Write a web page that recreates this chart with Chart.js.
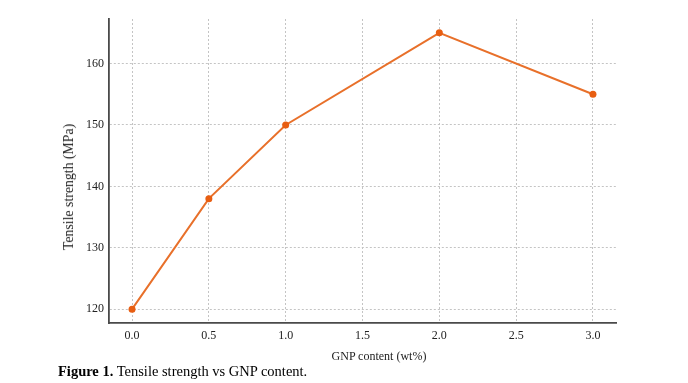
<!DOCTYPE html>
<html>
<head>
<meta charset="utf-8">
<script src="https://cdn.jsdelivr.net/npm/chart.js@4.4.1/dist/chart.umd.min.js"></script>
<style>
  body { margin: 0; background: #fff; }
  #wrap { position: relative; width: 688px; height: 383px; }
  #grafico { position: absolute; left: 0; top: 0; }
  .txt { position: absolute; font-family: 'Liberation Serif', 'Times New Roman', serif; color: #222; white-space: nowrap; }
  #tituloX { font-size: 12px; left: 379px; top: 356px; transform: translate(-50%, -50%); }
  #tituloY { font-size: 13.8px; left: 69px; top: 187px; transform: translate(-50%, -50%) rotate(-90deg); }
  #legenda { font-size: 14.5px; left: 58px; top: 363px; color: #000; }
</style>
</head>
<body>
<div id="wrap">
  <canvas id="grafico" width="688" height="383"></canvas>
  <div class="txt" id="tituloX">GNP content (wt%)</div>
  <div class="txt" id="tituloY">Tensile strength (MPa)</div>
  <div class="txt" id="legenda"><b>Figure 1.</b> Tensile strength vs GNP content.</div>
</div>
<script>
// Dados
const teorGNP = [0.0, 0.5, 1.0, 2.0, 3.0];
const resistencia = [120, 138, 150, 165, 155];
const ticksX = [0.0, 0.5, 1.0, 1.5, 2.0, 2.5, 3.0];
const ticksY = [120, 130, 140, 150, 160];

const pontos = teorGNP.map((x, i) => ({ x: x, y: resistencia[i] }));

const fonteTicks = { family: "'Liberation Serif', 'Times New Roman', serif", size: 12 };

var ctx = document.getElementById('grafico').getContext('2d');
var grafico = new Chart(ctx, {
    type: 'line',
    data: {
        datasets: [{
            label: 'Tensile strength',
            data: pontos,
            borderColor: '#e8702a',
            backgroundColor: '#e85e12',
            borderWidth: 2,
            pointRadius: 3.5,
            pointBorderWidth: 0,
            pointBackgroundColor: '#e85e12',
            tension: 0
        }]
    },
    options: {
        responsive: false,
        animation: false,
        layout: { padding: { left: 0, top: 19, right: 72, bottom: 0 } },
        plugins: { legend: { display: false }, tooltip: { enabled: false } },
        scales: {
            x: {
                type: 'linear',
                min: -0.15,
                max: 3.15,
                afterFit: function (scale) { scale.height = 60; },
                afterBuildTicks: function (scale) { scale.ticks = ticksX.map(v => ({ value: v })); },
                ticks: {
                    includeBounds: false,
                    padding: 6,
                    color: '#222',
                    font: fonteTicks,
                    callback: v => Number(v).toFixed(1)
                },
                grid: { color: '#c4c4c4', lineWidth: 1, drawTicks: false },
                border: { display: true, color: '#4a4a4a', width: 1.8, dash: [2, 2] }
            },
            y: {
                type: 'linear',
                min: 117.75,
                max: 167.25,
                afterFit: function (scale) { scale.width = 109; },
                afterBuildTicks: function (scale) { scale.ticks = ticksY.map(v => ({ value: v })); },
                ticks: {
                    includeBounds: false,
                    padding: 5,
                    color: '#222',
                    font: fonteTicks
                },
                grid: { color: '#c4c4c4', lineWidth: 1, drawTicks: false },
                border: { display: true, color: '#4a4a4a', width: 1.8, dash: [2, 2] }
            }
        }
    }
});
</script>
</body>
</html>
